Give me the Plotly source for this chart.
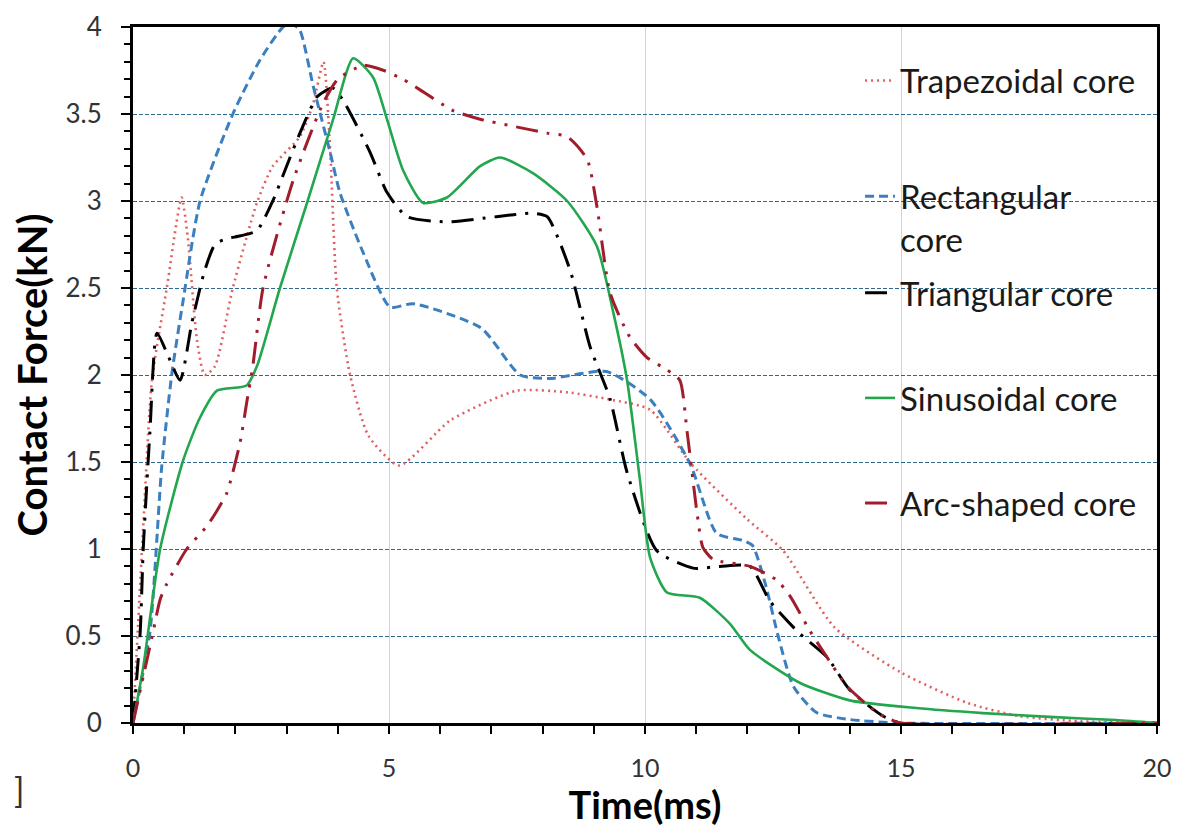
import plotly.graph_objects as go

# ---------------- data ----------------
trap_x = [0, 0.2, 0.37, 0.66, 0.95, 1.07, 1.25, 1.4, 1.6, 1.95, 2.42, 2.73, 3.26, 3.52, 3.72,
          3.85, 3.98, 4.24, 4.6, 5.2, 6.2, 7.5, 8.5, 9.3, 10.1, 10.9, 12.0, 12.7, 13.7, 15.0,
          16.3, 17.3, 18.5, 20]
trap_y = [0, 1.13, 1.97, 2.5, 3.02, 2.79, 2.2, 2.0, 2.05, 2.5, 2.99, 3.2, 3.37, 3.56, 3.8,
          3.3, 2.5, 2.0, 1.65, 1.48, 1.74, 1.91, 1.9, 1.86, 1.8, 1.49, 1.17, 0.99, 0.55, 0.29,
          0.115, 0.04, 0.01, 0]

rect_x = [0, 0.33, 0.56, 0.76, 0.98, 1.31, 1.95, 2.48, 2.93, 3.1, 3.26, 3.52, 3.85, 4.04,
          4.5, 5.02, 5.47, 6.8, 7.56, 8.14, 9.25, 10.1, 10.88, 11.4, 11.9, 12.1, 12.35, 12.6,
          12.9, 13.35, 14.0, 15.0, 20]
rect_y = [0, 0.52, 1.47, 2.01, 2.43, 3.0, 3.5, 3.81, 4.0, 4.02, 3.98, 3.66, 3.28, 3.05,
          2.7, 2.39, 2.41, 2.27, 2.0, 1.98, 2.02, 1.86, 1.49, 1.09, 1.05, 1.02, 0.8, 0.5,
          0.21, 0.06, 0.02, 0, 0]

tri_x = [0, 0.14, 0.2, 0.33, 0.47, 0.7, 0.92, 1.15, 1.4, 1.6, 1.8, 2.1, 2.42, 2.73, 3.0,
         3.26, 3.6, 3.9, 4.1, 4.63, 4.96, 5.35, 6.13, 7.1, 7.8, 8.09, 8.54, 8.93, 9.32, 9.65,
         10.23, 10.94, 11.46, 12.05, 12.44, 13.0, 13.55, 14.0, 14.65, 15.0, 20]
tri_y = [0, 0.52, 1.0, 1.67, 2.24, 2.1, 1.97, 2.3, 2.6, 2.75, 2.78, 2.8, 2.83, 3.0, 3.2,
         3.39, 3.6, 3.65, 3.58, 3.28, 3.05, 2.91, 2.88, 2.91, 2.93, 2.91, 2.6, 2.16, 1.86, 1.44,
         0.99, 0.89, 0.9, 0.9, 0.7, 0.52, 0.38, 0.19, 0.04, 0, 0]

sin_x = [0, 0.2, 0.53, 0.98, 1.3, 1.64, 2.22, 2.42, 2.87, 3.4, 3.91, 4.3, 4.69, 4.96, 5.27,
         5.66, 6.13, 6.78, 7.17, 7.81, 8.48, 9.06, 9.38, 9.65, 9.9, 10.1, 10.43, 11.07, 11.66,
         12.05, 13.03, 14.0, 15.3, 16.6, 17.9, 19.2, 20]
sin_y = [0, 0.32, 1.0, 1.51, 1.75, 1.91, 1.94, 2.05, 2.5, 2.99, 3.47, 3.82, 3.71, 3.47, 3.18,
         2.99, 3.02, 3.2, 3.25, 3.16, 3.0, 2.74, 2.36, 1.97, 1.4, 0.95, 0.75, 0.72, 0.57,
         0.42, 0.23, 0.13, 0.086, 0.057, 0.035, 0.017, 0]

arc_x = [0, 0.39, 0.53, 0.66, 1.05, 1.44, 1.64, 1.83, 2.09, 2.22, 2.34, 2.54, 3.13, 3.71,
         4.0, 4.5, 4.9, 5.27, 5.6, 6.25, 6.78, 7.42, 8.09, 8.48, 8.87, 9.06, 9.32, 9.7, 10.04,
         10.43, 10.68, 10.82, 11.02, 11.13, 11.33, 12.05, 12.58, 12.83, 13.22, 13.55, 13.95,
         14.53, 14.8, 15.0, 20]
arc_y = [0, 0.52, 0.71, 0.8, 1.0, 1.13, 1.22, 1.32, 1.61, 1.84, 2.05, 2.5, 3.12, 3.56,
         3.7, 3.78, 3.75, 3.7, 3.64, 3.52, 3.47, 3.43, 3.39, 3.37, 3.24, 2.97, 2.47, 2.22, 2.1,
         2.03, 1.97, 1.68, 1.2, 1.01, 0.94, 0.9, 0.82, 0.73, 0.53, 0.38, 0.21,
         0.06, 0.02, 0, 0]

series_names = ["Trapezoidal core", "Rectangular<br>core", "Triangular core",
                "Sinusoidal core", "Arc-shaped core"]
x_ticks = [0, 5, 10, 15, 20]
y_ticks = [0, 0.5, 1, 1.5, 2, 2.5, 3, 3.5, 4]

# ---------------- styling ----------------
FONT = "Lato"
styles = [
    dict(color="#e06060", width=2.6, dash="2px,4px"),
    dict(color="#3b7fc0", width=3, dash="9px,5px"),
    dict(color="#000000", width=3, dash="22px,9px,3px,9px"),
    dict(color="#22a64e", width=2.6, dash="solid"),
    dict(color="#a11d2b", width=3, dash="22px,9px,3px,9px,3px,9px"),
]
data = [(trap_x, trap_y), (rect_x, rect_y), (tri_x, tri_y), (sin_x, sin_y), (arc_x, arc_y)]
legend_ids = ["legend", "legend2", "legend3", "legend4", "legend5"]
legend_y = [0.923, 0.797, 0.618, 0.467, 0.316]
legend_anchor = ["middle", "top", "middle", "middle", "middle"]

fig = go.Figure()
for (xs, ys), name, st, lid in zip(data, series_names, styles, legend_ids):
    fig.add_trace(go.Scatter(
        x=xs, y=ys, mode="lines", name=name, legend=lid,
        line=dict(color=st["color"], width=st["width"], dash=st["dash"],
                  shape="spline", smoothing=0.6),
    ))

legend_layout = {}
for lid, ly, anc in zip(legend_ids, legend_y, legend_anchor):
    legend_layout[lid] = dict(
        x=0.71, xanchor="left", y=ly, yanchor=anc,
        bgcolor="rgba(0,0,0,0)", borderwidth=0,
        font=dict(family=FONT, size=33, color="#1a1a1a"),
        valign="top", itemwidth=30,
    )

fig.update_layout(
    width=1189, height=819,
    margin=dict(l=125, r=40, t=19, b=104),
    paper_bgcolor="white", plot_bgcolor="white",
    font=dict(family=FONT, color="#222"),
    showlegend=True,
    **legend_layout,
    annotations=[dict(text="]", xref="paper", yref="paper", x=-0.118, y=-0.128,
                      showarrow=False, font=dict(family=FONT, size=34, color="#333"))],
)

fig.update_xaxes(
    range=[0, 20], tickvals=x_ticks, ticktext=[str(v) for v in x_ticks],
    showline=True, linecolor="black", linewidth=3, mirror=True,
    ticks="outside", ticklen=8, tickwidth=1.5, tickcolor="black",
    minor=dict(dtick=1, ticks="outside", ticklen=8, tickwidth=1.5, tickcolor="black",
               showgrid=False),
    showgrid=True, gridcolor="#d4d4d4", gridwidth=1,
    zeroline=False, automargin=False,
    tickfont=dict(family=FONT, size=25, color="#333"),
    ticklabelstandoff=13,
    title=dict(text="<b>Time(ms)</b>", font=dict(family=FONT, size=38, color="black"),
               standoff=6),
)
fig.update_yaxes(
    range=[0, 4], tickvals=y_ticks, ticktext=[f"{v:g}" for v in y_ticks],
    showline=True, linecolor="black", linewidth=3, mirror=True,
    ticks="outside", ticklen=9, tickwidth=1.5, tickcolor="black",
    minor=dict(dtick=0.1, ticks="outside", ticklen=6, tickwidth=1.5, tickcolor="black",
               showgrid=False),
    showgrid=True, gridcolor="#2f6a8c", gridwidth=1, griddash="4px,2px",
    zeroline=False, automargin=False,
    tickfont=dict(family=FONT, size=26, color="#333"),
    ticklabelstandoff=14,
    title=dict(text="<b>Contact Force(kN)</b>", font=dict(family=FONT, size=40, color="black"),
               standoff=8),
)

fig.write_html("out.html")
